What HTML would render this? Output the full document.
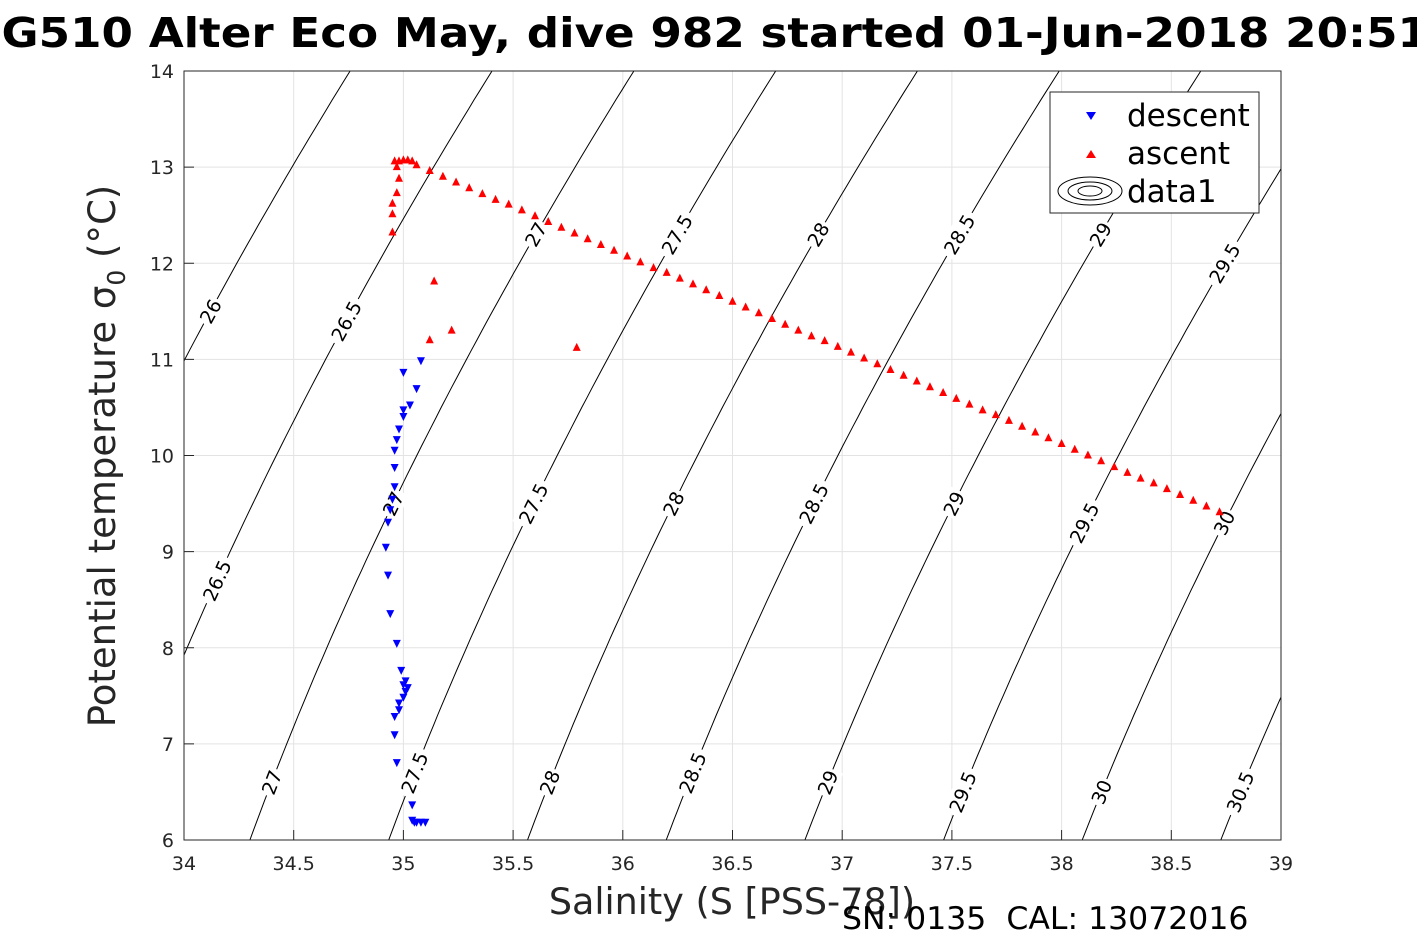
<!DOCTYPE html>
<html><head><meta charset="utf-8"><style>
html,body{margin:0;padding:0;background:#fff;overflow:hidden}
svg text{font-family:"DejaVu Sans","Liberation Sans",sans-serif}
</style></head><body>
<svg id="chart" width="1417" height="945" viewBox="0 0 1417 945" xmlns="http://www.w3.org/2000/svg">
<text x="-31" y="47" font-size="41" font-weight="bold" fill="#000" textLength="1460" lengthAdjust="spacingAndGlyphs">SG510 Alter Eco May, dive 982 started 01-Jun-2018 20:51</text>
<rect x="184" y="71" width="1097" height="769" fill="#fff"/>
<g id="grid"></g>
<g id="contours"></g>
<g id="marks"></g>
<rect x="184" y="71" width="1097" height="769" fill="none" stroke="#262626" stroke-width="1"/>
<g id="axes"></g>
<text x="732" y="914" font-size="36.5" text-anchor="middle" fill="#262626">Salinity (S [PSS-78])</text>
<text transform="translate(115,456) rotate(-90)" font-size="37" text-anchor="middle" fill="#262626">Potential temperature σ<tspan font-size="25" dy="10">0</tspan><tspan dy="-10"> (°C)</tspan></text>
<text x="842" y="929" font-size="31.5" fill="#000" xml:space="preserve">SN: 0135 &#160;CAL: 13072016</text>
<g>
<rect x="1050" y="92" width="209" height="121" fill="#fff" stroke="#262626"/>
<path d="M1086,112 L1096,112 L1091,120 Z" fill="#0000ff"/>
<text x="1127" y="126" font-size="31" fill="#000">descent</text>
<path d="M1086,158 L1096,158 L1091,150 Z" fill="#ff0000"/>
<text x="1127" y="164" font-size="31" fill="#000">ascent</text>
<g fill="none" stroke="#000" stroke-width="1">
<ellipse cx="1090" cy="191" rx="32" ry="14"/><ellipse cx="1090" cy="191" rx="22" ry="9"/><ellipse cx="1090" cy="191" rx="12" ry="5"/></g>
<text x="1127" y="202" font-size="31" fill="#000">data1</text>
</g>
</svg>
<script>
const xTicks=[34,34.5,35,35.5,36,36.5,37,37.5,38,38.5,39];
const yTicks=[6,7,8,9,10,11,12,13,14];
const levels=[26,26.5,27,27.5,28,28.5,29,29.5,30,30.5];
const labelLevels=[26,26.5,26.5,27,27,27,27.5,27.5,27.5,28,28,28,28.5,28.5,28.5,29,29,29,29.5,29.5,29.5,30,30,30.5];
const labelTemps=[11.5,11.4,8.7,12.3,9.5,6.6,12.3,9.5,6.7,12.3,9.5,6.6,12.3,9.5,6.7,12.3,9.5,6.6,12.0,9.3,6.5,9.3,6.5,6.5];
const descentS=[35.00,35.08,35.06,35.03,35.00,35.00,34.98,34.97,34.96,34.96,34.96,34.95,34.94,34.93,34.92,34.93,34.94,34.97,34.99,35.00,35.01,35.00,34.98,34.98,34.96,34.96,34.97,35.04,35.04,35.05,35.06,35.08,35.10,35.02,35.01];
const descentT=[10.86,10.98,10.69,10.52,10.47,10.40,10.27,10.16,10.05,9.87,9.67,9.54,9.43,9.30,9.04,8.75,8.35,8.04,7.76,7.61,7.54,7.48,7.42,7.35,7.28,7.09,6.80,6.36,6.20,6.18,6.18,6.18,6.18,7.58,7.65];
const ascentS=[34.95,34.95,34.95,34.97,34.98,34.97,34.96,34.98,35.00,35.02,35.04,35.14,35.12,35.22,35.79,
35.06,35.12,35.18,35.24,35.30,35.36,35.42,35.48,35.54,35.60,35.66,35.72,35.78,35.84,35.90,35.96,36.02,36.08,36.14,36.20,36.26,36.32,36.38,36.44,36.50,36.56,36.62,36.68,36.74,36.80,36.86,36.92,36.98,37.04,37.10,37.16,37.22,37.28,37.34,37.40,37.46,37.52,37.58,37.64,37.70,37.76,37.82,37.88,37.94,38.00,38.06,38.12,38.18,38.24,38.30,38.36,38.42,38.48,38.54,38.60,38.66,38.72];
const ascentT=[12.33,12.52,12.63,12.74,12.89,13.01,13.07,13.07,13.08,13.08,13.07,11.82,11.21,11.31,11.13,
13.03,12.97,12.91,12.85,12.79,12.73,12.67,12.62,12.56,12.50,12.44,12.38,12.32,12.26,12.20,12.14,12.08,12.02,11.96,11.91,11.85,11.79,11.73,11.67,11.61,11.55,11.49,11.43,11.37,11.31,11.25,11.20,11.14,11.08,11.02,10.96,10.90,10.84,10.78,10.72,10.66,10.60,10.54,10.48,10.43,10.37,10.31,10.25,10.19,10.13,10.07,10.01,9.95,9.89,9.83,9.77,9.72,9.66,9.60,9.54,9.48,9.42];

const X0=184,X1=1281,Y0=840,Y1=71,SMIN=34,SMAX=39,TMIN=6,TMAX=14;
const sx=s=>X0+(s-SMIN)/(SMAX-SMIN)*(X1-X0);
const sy=t=>Y0-(t-TMIN)/(TMAX-TMIN)*(Y0-Y1);
const NS="http://www.w3.org/2000/svg";
function mk(tag,attrs,parent){const e=document.createElementNS(NS,tag);for(const k in attrs)e.setAttribute(k,attrs[k]);parent.appendChild(e);return e;}
function sigma(S,T){
 const rw=999.842594+6.793952e-2*T-9.095290e-3*T*T+1.001685e-4*T**3-1.120083e-6*T**4+6.536332e-9*T**5;
 const A=0.824493-4.0899e-3*T+7.6438e-5*T*T-8.2467e-7*T**3+5.3875e-9*T**4;
 const B=-5.72466e-3+1.0227e-4*T-1.6546e-6*T*T;
 return rw+A*S+B*S**1.5+4.8314e-4*S*S-1000;}
function solveS(sig,T){let a=25,b=45;for(let i=0;i<50;i++){const m=(a+b)/2;if(sigma(m,T)<sig)a=m;else b=m;}return (a+b)/2;}

const grid=document.getElementById('grid'),axes=document.getElementById('axes');
xTicks.forEach(v=>{
 const l=mk('line',{x1:sx(v),x2:sx(v),y1:Y1,y2:Y0,stroke:'#e3e3e3','stroke-width':1},grid);
 
 mk('line',{x1:sx(v),x2:sx(v),y1:Y0,y2:Y0-10,stroke:'#262626'},axes);
 const t=mk('text',{x:sx(v),y:Y0+30,'font-size':19,'text-anchor':'middle',fill:'#262626'},axes);
 t.textContent=v;});
yTicks.forEach(v=>{
 const l=mk('line',{x1:X0,x2:X1,y1:sy(v),y2:sy(v),stroke:'#e3e3e3','stroke-width':1},grid);
 
 mk('line',{x1:X0,x2:X0+10,y1:sy(v),y2:sy(v),stroke:'#262626'},axes);
 const t=mk('text',{x:X0-10,y:sy(v)+7,'font-size':19,'text-anchor':'end',fill:'#262626'},axes);
 t.textContent=v;});

const cg=document.getElementById('contours');
const clip=mk('clipPath',{id:'pc'},mk('defs',{},document.getElementById('chart')));
mk('rect',{x:X0,y:Y1,width:X1-X0,height:Y0-Y1},clip);
cg.setAttribute('clip-path','url(#pc)');
levels.forEach(lv=>{
 let d='';for(let T=TMIN;T<=TMAX+1e-9;T+=0.1){d+=(d?'L':'M')+sx(solveS(lv,T)).toFixed(1)+','+sy(T).toFixed(1);}
 const p=mk('path',{d:d,fill:'none',stroke:'#000','stroke-width':1},cg);
 });
labelLevels.forEach((lv,i)=>{
 const T=labelTemps[i];const x=sx(solveS(lv,T)),y=sy(T);
 const x2=sx(solveS(lv,T+0.2)),y2=sy(T+0.2);
 const ang=Math.atan2(y2-y,x2-x)*180/Math.PI;
 const g=mk('g',{transform:`translate(${x},${y}) rotate(${ang})`},cg);
 
 const w=String(lv).length*11+6;
 mk('rect',{x:-w/2,y:-11,width:w,height:22,fill:'#fff'},g);
 const t=mk('text',{x:0,y:7,'font-size':19,'text-anchor':'middle',fill:'#000'},g);t.textContent=lv;});

const mg=document.getElementById('marks');
descentS.forEach((s,i)=>{const x=sx(s),y=sy(descentT[i]);
 const p=mk('path',{d:`M${x-4},${y-4}L${x+4},${y-4}L${x},${y+4}Z`,fill:'#0000ff'},mg);
 });
ascentS.forEach((s,i)=>{const x=sx(s),y=sy(ascentT[i]);
 const p=mk('path',{d:`M${x-4},${y+4}L${x+4},${y+4}L${x},${y-4}Z`,fill:'#ff0000'},mg);
 });
</script>
</body></html>
